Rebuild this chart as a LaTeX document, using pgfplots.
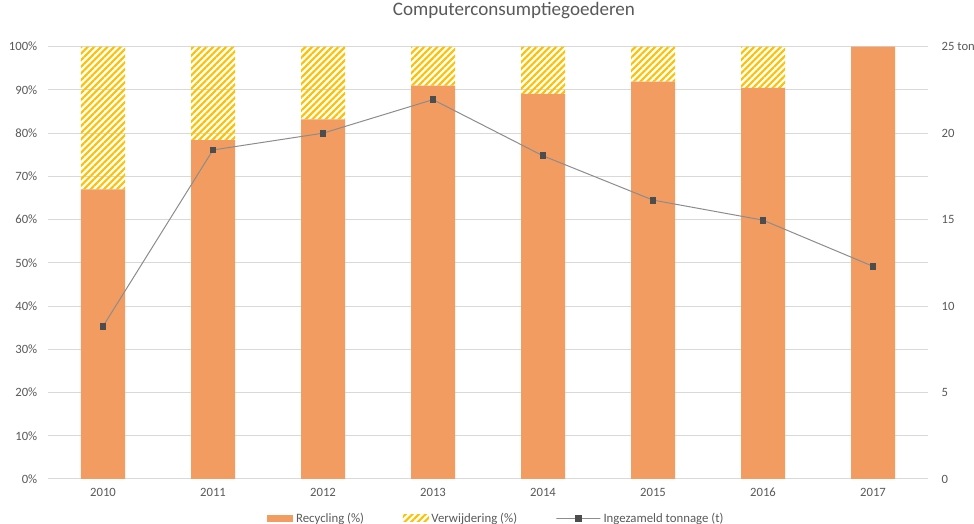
\documentclass[border=0pt]{standalone}
\usepackage{pgfplots}
\pgfplotsset{compat=1.18}
\usepackage{fontspec}
\setmainfont{Carlito}
\usetikzlibrary{patterns.meta}
\definecolor{recyc}{HTML}{F29C62}
\definecolor{verw}{HTML}{FFC000}
\definecolor{tickc}{HTML}{595959}
\definecolor{gridc}{HTML}{D9D9D9}
\definecolor{linec}{HTML}{8C8C8C}
\definecolor{markc}{HTML}{4D4D4D}
\pgfplotsset{
  linelegend/.style={legend image code/.code={\draw[##1, mark=none] (0pt,0pt) -- (20pt,0pt); \draw[##1] plot coordinates {(10pt,0pt)};}},
  recleg/.style={legend image code/.code={\fill[recyc] (0pt,-2.6pt) rectangle (19.5pt,2.6pt);}},
  verleg/.style={legend image code/.code={\fill[pattern={Lines[angle=45,distance=3.5pt,line width=1.6pt]}, pattern color=verw] (0pt,-2.6pt) rectangle (19.5pt,2.6pt);}},
}
\begin{document}
\begin{tikzpicture}
\pgfplotsset{
  common/.style={
    scale only axis, width=660pt, height=324.2pt,
    xmin=-0.5, xmax=7.5,
    axis line style={draw=none},
    major tick length=0pt,
    /pgf/number format/assume math mode=true,
    tick label style={font=\fontsize{9.5}{11}\selectfont, text=tickc},
  }
}
\begin{axis}[common, name=ax,
  ymin=0, ymax=100,
  ybar stacked, bar width=33pt,
  xtick={0,...,7}, xticklabels={2010,2011,2012,2013,2014,2015,2016,2017},
  xticklabel style={yshift=-3.5pt},
  ytick={0,10,...,100},
  yticklabel={\pgfmathprintnumber{\tick}\%},
  yticklabel style={xshift=-4.5pt},
  ymajorgrids, grid style={gridc, line width=0.75pt},
  title={Computerconsumptiegoederen},
  title style={at={(0.5295,1)}, anchor=center, yshift=21.5pt, font=\fontsize{14.3}{17}\selectfont, text=tickc},
  legend columns=3,
  legend style={at={(0.51,-0.065)}, anchor=north, draw=none, fill=none,
    font=\fontsize{9.6}{11}\selectfont, text=tickc,
    /tikz/every even column/.append style={column sep=27pt}},
]
\addplot[fill=recyc, draw=none, recleg]
  coordinates {(0,67.0) (1,78.4) (2,83.2) (3,91.0) (4,89.1) (5,91.9) (6,90.5) (7,100)};
\addlegendentry{Recycling (\%)}
\addplot[draw=none, pattern={Lines[angle=45,distance=3.5pt,line width=1.6pt]}, pattern color=verw, verleg]
  coordinates {(0,33.0) (1,21.6) (2,16.8) (3,9.0) (4,10.9) (5,8.1) (6,9.5) (7,0)};
\addlegendentry{Verwijdering (\%)}
\addlegendimage{linec, line width=0.75pt, mark=square*, mark size=2.2pt, mark options={fill=markc, draw=markc}, linelegend}
\addlegendentry{Ingezameld tonnage (t)}
\end{axis}
\begin{axis}[common, at={(ax.south west)}, anchor=south west,
  ymin=0, ymax=25,
  axis y line*=right, axis x line=none,
  ytick={0,5,...,25}, yticklabels={0,5,10,15,20,25 ton},
  yticklabel style={xshift=6.75pt, anchor=west},
]
\addplot[linec, line width=0.75pt, mark=square*, mark size=2.2pt, mark options={fill=markc, draw=markc}]
  coordinates {(0,8.83) (1,19.03) (2,20.0) (3,21.94) (4,18.69) (5,16.13) (6,14.97) (7,12.30)};
\end{axis}
\pgfresetboundingbox
\useasboundingbox ([xshift=-36pt,yshift=-33.75pt]ax.south west) rectangle ++(730.5pt,393pt);
\end{tikzpicture}
\end{document}
